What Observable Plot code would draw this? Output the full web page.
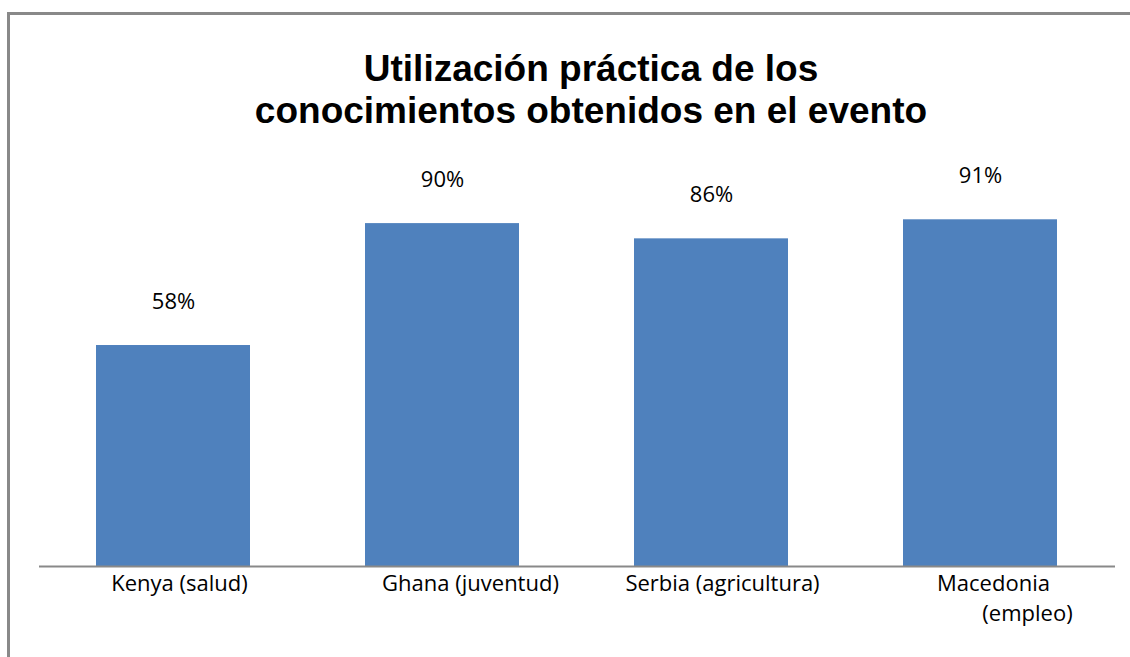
<!DOCTYPE html>
<html><head><meta charset="utf-8">
<script src="https://cdn.jsdelivr.net/npm/d3@7"></script>
<script src="https://cdn.jsdelivr.net/npm/@observablehq/plot@0.6"></script>
<style>
html,body{margin:0;padding:0;background:#fff;overflow:hidden;}
#page{position:relative;width:1130px;height:657px;overflow:hidden;background:#fff;}
#frame{position:absolute;left:7px;top:12px;width:1140px;height:660px;border-left:3px solid #898989;border-top:3px solid #898989;box-sizing:border-box;}
#title{position:absolute;left:0;top:48px;width:1182px;text-align:center;font-family:"Liberation Sans",Arial,sans-serif;font-weight:bold;font-size:37px;line-height:42px;color:#000;}
#chart{position:absolute;left:0;top:150px;}
</style></head>
<body><div id="page"><div id="frame"></div><div id="title">Utilización práctica de los<br>conocimientos obtenidos en el evento</div><div id="chart"></div></div>
<script>
const categories = ["Kenya (salud)", "Ghana (juventud)", "Serbia (agricultura)", "Macedonia (empleo)"];
const values = [58, 90, 86, 91];
const valueLabels = ["58%", "90%", "86%", "91%"];
const tickLines = [["Kenya (salud)"], ["Ghana (juventud)"], ["Serbia (agricultura)"], ["Macedonia", "(empleo)"]];

const data = categories.map((c, i) => ({cat: c, value: values[i], label: valueLabels[i]}));
const font = "'Open Sans', 'Noto Sans', sans-serif";
const shifts = [[6], [28], [11], [13, 47]];

const tickMarks = [];
tickLines.forEach((lines, i) => {
  lines.forEach((line, j) => {
    tickMarks.push(Plot.text([categories[i]], {
      x: d => d, text: () => line,
      frameAnchor: "bottom", lineAnchor: "top",
      dy: 9 + 30 * j, dx: shifts[i][j],
      fontSize: 22, fontFamily: font, fill: "#000"
    }));
  });
});

const chart = Plot.plot({
  width: 1130, height: 507,
  marginTop: 35, marginBottom: 91, marginLeft: 39, marginRight: 15,
  style: {background: "none", overflow: "visible"},
  x: {domain: categories, paddingInner: 0.427, paddingOuter: 0.2135, axis: null},
  y: {domain: [0, 100], axis: null},
  marks: [
    Plot.barY(data, {x: "cat", y: "value", fill: "#4F81BD"}),
    Plot.ruleY([0], {stroke: "#898989", strokeWidth: 2}),
    Plot.text(data, {x: "cat", y: "value", text: "label", lineAnchor: "bottom", dy: -37, fontSize: 22, fontFamily: font, fill: "#000"}),
    ...tickMarks
  ]
});
document.getElementById("chart").appendChild(chart);
</script>
</body></html>
